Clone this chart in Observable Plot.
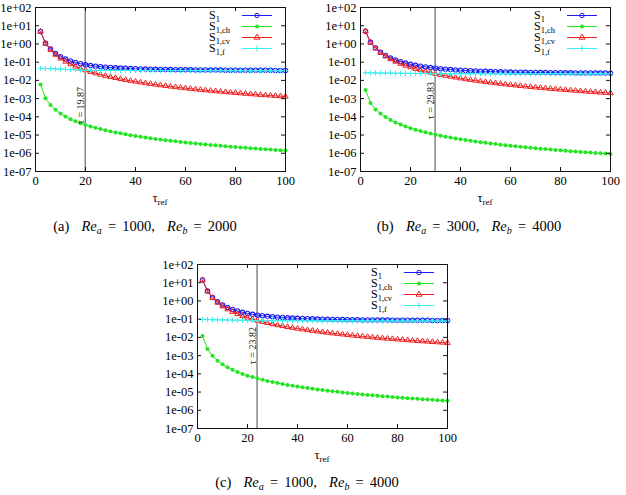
<!DOCTYPE html>
<html>
<head>
<meta charset="utf-8">
<script src="https://cdn.jsdelivr.net/npm/d3@7"></script>
<script src="https://cdn.jsdelivr.net/npm/@observablehq/plot@0.6"></script>
<style>
  body { margin: 0; background: #fff; width: 626px; height: 495px; position: relative; overflow: hidden; font-family: "Liberation Serif", "Times New Roman", Times, "DejaVu Serif", serif; }
  .panel { position: absolute; }
  .cap { position: absolute; width: 300px; text-align: center; font-size: 14.5px; line-height: 16px; white-space: nowrap; color: #000; word-spacing: 2.5px; }
  .cap sub { font-size: 10px; vertical-align: -3px; line-height: 0; }
</style>
</head>
<body>
<div id="pa" class="panel" style="left:0px;top:0px"></div>
<div id="pb" class="panel" style="left:325px;top:0px"></div>
<div id="pc" class="panel" style="left:162px;top:257px"></div>
<div class="cap" style="left:-5px;top:218px">(a)&nbsp; <i>Re</i><sub><i>a</i></sub> = 1000, &nbsp;<i>Re</i><sub><i>b</i></sub> = 2000</div>
<div class="cap" style="left:319px;top:218px">(b)&nbsp; <i>Re</i><sub><i>a</i></sub> = 3000, &nbsp;<i>Re</i><sub><i>b</i></sub> = 4000</div>
<div class="cap" style="left:157px;top:474px">(c)&nbsp; <i>Re</i><sub><i>a</i></sub> = 1000, &nbsp;<i>Re</i><sub><i>b</i></sub> = 4000</div>
<script>
// reference time values (x axis)
const tauRef = [2,4,6,8,10,12,14,16,18,20,22,24,26,28,30,32,34,36,38,40,42,44,46,48,50,52,54,56,58,60,62,64,66,68,70,72,74,76,78,80,82,84,86,88,90,92,94,96,98,100];

// (a) Re_a = 1000, Re_b = 2000
const s1_a = [4.85,1.096,0.52,0.30,0.2005,0.147,0.1165,0.0963,0.0821,0.0718,0.0652,0.0603,0.0564,0.0534,0.0509,0.0489,0.0472,0.0458,0.0445,0.0435,0.0427,0.0419,0.0412,0.0406,0.0401,0.0396,0.0392,0.0388,0.0385,0.0381,0.0379,0.0377,0.0374,0.0372,0.037,0.0368,0.0366,0.0365,0.0363,0.0362,0.0361,0.036,0.0358,0.0357,0.0356,0.0355,0.0355,0.0354,0.0354,0.0353];
const s1ch_a = [6.0e-3,1.05e-3,4.5e-4,2.42e-4,1.51e-4,1.03e-4,7.48e-5,5.69e-5,4.47e-5,3.6e-5,2.98e-5,2.5e-5,2.13e-5,1.83e-5,1.59e-5,1.4e-5,1.24e-5,1.1e-5,9.88e-6,8.91e-6,8.08e-6,7.35e-6,6.72e-6,6.16e-6,5.68e-6,5.25e-6,4.86e-6,4.52e-6,4.21e-6,3.93e-6,3.68e-6,3.45e-6,3.24e-6,3.05e-6,2.88e-6,2.72e-6,2.57e-6,2.44e-6,2.31e-6,2.2e-6,2.09e-6,1.99e-6,1.9e-6,1.81e-6,1.73e-6,1.66e-6,1.59e-6,1.52e-6,1.46e-6,1.4e-6];
const s1cv_a = [4.8,1.05,0.476,0.257,0.159,0.107,0.0771,0.0579,0.0449,0.0358,0.0294,0.0246,0.0208,0.0179,0.0155,0.0136,0.012,0.01066,0.00954,0.00858,0.00776,0.00705,0.00644,0.0059,0.00542,0.005,0.00463,0.00429,0.00399,0.00372,0.00348,0.00326,0.00306,0.00288,0.00271,0.00256,0.00242,0.00229,0.00217,0.00206,0.00196,0.00186,0.00177,0.00169,0.00161,0.00154,0.00148,0.00141,0.00136,0.0013];
const s1f_a = [0.046,0.0448,0.0437,0.0426,0.0415,0.0404,0.0394,0.0384,0.0372,0.036,0.0358,0.0357,0.0356,0.0355,0.0354,0.0353,0.0352,0.0351,0.035,0.0349,0.0349,0.0348,0.0348,0.0347,0.0347,0.0346,0.0346,0.0345,0.0345,0.0344,0.0344,0.0344,0.0343,0.0343,0.0343,0.0342,0.0342,0.0342,0.0341,0.0341,0.0341,0.0341,0.034,0.034,0.034,0.034,0.034,0.034,0.034,0.034];

// (b) Re_a = 3000, Re_b = 4000
const s1_b = [5.03,1.23,0.606,0.353,0.235,0.171,0.132,0.1065,0.0891,0.0766,0.0673,0.0603,0.0547,0.0502,0.0467,0.0437,0.0414,0.0393,0.0376,0.0362,0.0348,0.0338,0.0329,0.032,0.0313,0.0306,0.03,0.0295,0.0291,0.0287,0.0283,0.028,0.0277,0.0274,0.0271,0.0269,0.0267,0.0265,0.0263,0.0262,0.026,0.0259,0.0257,0.0256,0.0255,0.0254,0.0253,0.0252,0.0251,0.025];
const s1ch_b = [3.0e-3,5.8e-4,2.5e-4,1.5e-4,9.7e-5,6.8e-5,4.94e-5,3.76e-5,2.95e-5,2.38e-5,1.97e-5,1.65e-5,1.41e-5,1.21e-5,1.05e-5,9.24e-6,8.18e-6,7.26e-6,6.52e-6,5.88e-6,5.33e-6,4.85e-6,4.44e-6,4.07e-6,3.75e-6,3.47e-6,3.21e-6,2.98e-6,2.78e-6,2.59e-6,2.43e-6,2.28e-6,2.14e-6,2.01e-6,1.9e-6,1.8e-6,1.7e-6,1.61e-6,1.52e-6,1.45e-6,1.38e-6,1.31e-6,1.25e-6,1.19e-6,1.14e-6,1.1e-6,1.05e-6,1.0e-6,9.6e-7,9.2e-7];
const s1cv_b = [5.0,1.2,0.58,0.328,0.21,0.146,0.107,0.0819,0.0647,0.0524,0.0433,0.0364,0.031,0.0267,0.0233,0.0204,0.0181,0.0161,0.0144,0.013,0.0117,0.0107,0.00975,0.00894,0.00822,0.00759,0.00703,0.00653,0.00608,0.00567,0.0053,0.00497,0.00467,0.00439,0.00414,0.00391,0.0037,0.0035,0.00332,0.00315,0.003,0.00285,0.00272,0.0026,0.00248,0.00237,0.00227,0.00217,0.00208,0.002];
const s1f_b = [0.026,0.0258,0.0256,0.0254,0.0252,0.025,0.0248,0.0246,0.0244,0.0242,0.024,0.0239,0.0237,0.0235,0.0234,0.0233,0.0233,0.0232,0.0232,0.0232,0.0231,0.0231,0.0231,0.0231,0.0231,0.023,0.023,0.023,0.023,0.023,0.023,0.023,0.023,0.023,0.023,0.023,0.023,0.023,0.023,0.023,0.023,0.023,0.023,0.023,0.023,0.023,0.023,0.023,0.023,0.023];

// (c) Re_a = 1000, Re_b = 4000
const s1_c = [14.31,3.49,1.555,0.90,0.599,0.439,0.342,0.28,0.237,0.206,0.1835,0.166,0.1536,0.1437,0.1356,0.129,0.1235,0.1188,0.1148,0.1114,0.1085,0.106,0.1038,0.1018,0.1001,0.0985,0.0971,0.096,0.0948,0.0939,0.0929,0.0921,0.0913,0.0907,0.0901,0.0896,0.0891,0.0886,0.0882,0.0878,0.0874,0.0871,0.0867,0.0864,0.0862,0.0859,0.0857,0.0854,0.0852,0.085];
const s1ch_c = [1.2e-2,2.3e-3,9.9e-4,5.3e-4,3.32e-4,2.27e-4,1.65e-4,1.25e-4,9.8e-5,7.9e-5,6.6e-5,5.5e-5,4.7e-5,4.05e-5,3.53e-5,3.11e-5,2.76e-5,2.46e-5,2.21e-5,2.0e-5,1.81e-5,1.65e-5,1.51e-5,1.39e-5,1.28e-5,1.19e-5,1.1e-5,1.03e-5,9.58e-6,8.96e-6,8.41e-6,7.89e-6,7.43e-6,7.0e-6,6.62e-6,6.27e-6,5.93e-6,5.64e-6,5.35e-6,5.1e-6,4.86e-6,4.63e-6,4.43e-6,4.23e-6,4.05e-6,3.89e-6,3.73e-6,3.58e-6,3.44e-6,3.3e-6];
const s1cv_c = [14.2,3.39,1.46,0.807,0.508,0.349,0.253,0.192,0.1506,0.121,0.0994,0.083,0.071,0.0614,0.0536,0.0472,0.0419,0.0374,0.0336,0.0304,0.0276,0.0252,0.0231,0.0212,0.0196,0.0181,0.0168,0.0157,0.0146,0.0137,0.0128,0.012,0.0113,0.0107,0.0101,0.00955,0.00905,0.00858,0.00816,0.00776,0.00739,0.00705,0.00673,0.00643,0.00615,0.00589,0.00565,0.00542,0.0052,0.005];
const s1f_c = [0.096,0.0948,0.0935,0.0923,0.0911,0.0899,0.0888,0.0876,0.0864,0.0852,0.0841,0.083,0.0826,0.0823,0.082,0.0818,0.0816,0.0814,0.0812,0.081,0.0809,0.0808,0.0807,0.0806,0.0805,0.0804,0.0803,0.0803,0.0802,0.0802,0.0801,0.0801,0.08,0.08,0.08,0.08,0.08,0.08,0.08,0.08,0.08,0.08,0.08,0.08,0.08,0.08,0.08,0.08,0.08,0.08];

// crossing times marked by the vertical rule, and the height of their labels
const tauCross = [19.87, 29.83, 23.82];
const tauLabelY = [4.2e-4, 7.8e-4, 3.5e-3];

// axis ticks
const xTicks = [0, 20, 40, 60, 80, 100];
const yTicks = [1e-7, 1e-6, 1e-5, 1e-4, 1e-3, 1e-2, 1e-1, 1e0, 1e1, 1e2];

// series legend entries
const seriesSub = ["1", "1,ch", "1,cv", "1,f"];
const seriesColor = ["#1c1cf5", "#22e622", "#ee2020", "#3ceeee"];

const W = 300, H = 210, ML = 35, MR = 15, MT = 7, MB = 39;
const FW = W - ML - MR, FH = H - MT - MB;
const FONT = "'Liberation Serif', 'Times New Roman', Times, 'DejaVu Serif', serif";

const fmtPow = d => {
  const e = Math.round(Math.log10(d));
  return "1e" + (e < 0 ? "-" : "+") + String(Math.abs(e)).padStart(2, "0");
};

function seriesMarks(rows, key, i) {
  const c = seriesColor[i];
  const line = Plot.line(rows, {x: "t", y: key, stroke: c, strokeWidth: 1});
  let dot;
  if (i === 0) dot = Plot.dot(rows, {x: "t", y: key, r: 2.2, stroke: c, strokeWidth: 1.1, fill: "none"});
  else if (i === 1) dot = Plot.dot(rows, {x: "t", y: key, r: 2.0, fill: c, stroke: "none"});
  else if (i === 2) dot = Plot.dot(rows, {x: "t", y: key, r: 2.0, symbol: "triangle", stroke: c, strokeWidth: 1, fill: "none"});
  else dot = Plot.dot(rows, {x: "t", y: key, r: 1.8, symbol: "plus", stroke: c, strokeWidth: 1});
  return [line, dot];
}

function drawPanel(id, s1, ch, cv, f, tau, labelY) {
  const rows = tauRef.map((t, i) => ({t, s1: s1[i], ch: ch[i], cv: cv[i], f: f[i]}));
  const keys = ["s1", "ch", "cv", "f"];
  const plot = Plot.plot({
    width: W, height: H,
    marginLeft: ML, marginRight: MR, marginTop: MT, marginBottom: MB,
    x: {domain: [0, 100]},
    y: {type: "log", domain: [1e-7, 1e2]},
    style: {fontFamily: FONT, fontSize: "12.5px", color: "#000", background: "#fff", overflow: "visible"},
    marks: [
      Plot.ruleX([tau], {stroke: "#4a4a4a", strokeWidth: 1}),
      ...keys.flatMap((k, i) => seriesMarks(rows, k, i)),
      Plot.text([{t: tau, y: labelY}], {
        x: "t", y: "y", text: d => "τ = " + d.t.toFixed(2),
        rotate: -90, textAnchor: "middle", lineAnchor: "bottom", dx: -1,
        fontSize: 10, fill: "#222"
      }),
      Plot.tickY(yTicks, {y: d => d, insetRight: FW - 4, stroke: "#111"}),
      Plot.tickY(yTicks, {y: d => d, insetLeft: FW - 4, stroke: "#111"}),
      Plot.tickX(xTicks, {x: d => d, insetTop: FH - 4, stroke: "#111"}),
      Plot.tickX(xTicks, {x: d => d, insetBottom: FH - 4, stroke: "#111"}),
      Plot.axisY({ticks: yTicks, tickFormat: fmtPow, tickSize: 0, tickPadding: 4, label: null}),
      Plot.axisX({ticks: xTicks, tickSize: 0, tickPadding: 5, label: null}),
      Plot.frame({stroke: "#111", strokeWidth: 1})
    ]
  });

  const svg = d3.select(plot);

  // axis title: tau with subscript "ref"
  const xl = svg.append("text")
    .attr("x", ML + FW / 2).attr("y", H - MB + 31)
    .attr("text-anchor", "middle")
    .attr("font-family", FONT).attr("font-size", 12.5).attr("fill", "#000");
  xl.append("tspan").text("τ");
  xl.append("tspan").attr("font-size", 9).attr("dy", 3).text("ref");

  // legend in the upper right corner of the frame
  const lg = svg.append("g").attr("font-family", FONT).attr("fill", "#000").attr("text-anchor", "start");
  const right = W - MR;
  const symbols = [d3.symbolCircle, d3.symbolCircle, d3.symbolTriangle, d3.symbolPlus];
  seriesSub.forEach((sub, i) => {
    const cy = MT + 8.5 + 11 * i;
    const t = lg.append("text").attr("x", right - 76).attr("y", cy + 3.5).attr("font-size", 12);
    t.append("tspan").text("S");
    t.append("tspan").attr("font-size", 8.5).attr("dy", 2.5).text(sub);
    lg.append("line")
      .attr("x1", right - 43).attr("x2", right - 13)
      .attr("y1", cy).attr("y2", cy)
      .attr("stroke", seriesColor[i]).attr("stroke-width", 1);
    const m = lg.append("path")
      .attr("transform", `translate(${right - 28},${cy})`)
      .attr("d", d3.symbol(symbols[i], i === 1 ? 13 : 15)());
    if (i === 1) m.attr("fill", seriesColor[i]);
    else m.attr("fill", "none").attr("stroke", seriesColor[i]).attr("stroke-width", 1);
  });

  document.getElementById(id).appendChild(plot);
}

drawPanel("pa", s1_a, s1ch_a, s1cv_a, s1f_a, tauCross[0], tauLabelY[0]);
drawPanel("pb", s1_b, s1ch_b, s1cv_b, s1f_b, tauCross[1], tauLabelY[1]);
drawPanel("pc", s1_c, s1ch_c, s1cv_c, s1f_c, tauCross[2], tauLabelY[2]);
</script>
</body>
</html>
